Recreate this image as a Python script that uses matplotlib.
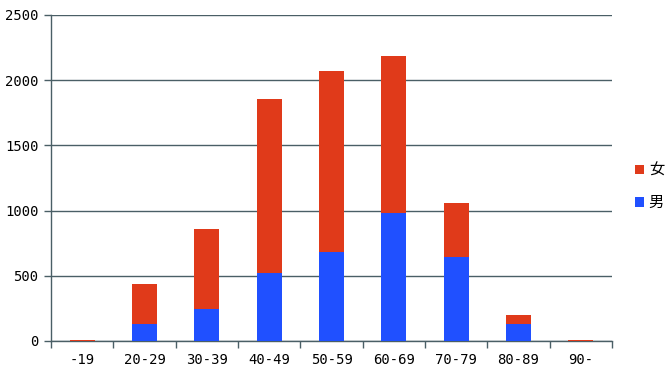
import matplotlib
matplotlib.use('Agg')
import matplotlib.pyplot as plt
import numpy as np

plt.rcParams['font.family'] = ['DejaVu Sans Mono', 'Noto Sans CJK JP']

categories = ['-19', '20-29', '30-39', '40-49', '50-59', '60-69', '70-79', '80-89', '90-']
male = [2, 130, 245, 522, 685, 982, 644, 130, 1]
female = [8, 307, 614, 1334, 1386, 1204, 414, 69, 5]

red = '#E03A1A'
blue = '#2050FF'
slate = '#4A5F66'

fig = plt.figure(figsize=(6.72, 3.73), dpi=100)
ax = fig.add_axes([51 / 672, 1 - 341 / 373, 561 / 672, 326 / 373])

x = np.arange(len(categories))
ax.bar(x, male, width=0.4, color=blue, label='男', zorder=3)
ax.bar(x, female, width=0.4, bottom=male, color=red, label='女', zorder=3)

ax.set_xlim(-0.5, len(categories) - 0.5)
ax.set_ylim(0, 2500)
ax.set_yticks(range(0, 2501, 500))
ax.yaxis.grid(True, color=slate, linewidth=1.0, zorder=1)

ax.set_xticks(x)
ax.set_xticklabels(categories, fontsize=10)
ax.tick_params(axis='x', which='major', length=0, pad=9)
ax.set_xticks(np.arange(-0.5, len(categories), 1), minor=True)
ax.tick_params(axis='x', which='minor', length=5, color=slate, width=1.0)
ax.tick_params(axis='y', length=5, color=slate, width=1.0, labelsize=10, pad=4)

for s in ['top', 'right']:
    ax.spines[s].set_visible(False)
for s in ['left', 'bottom']:
    ax.spines[s].set_color(slate)
    ax.spines[s].set_linewidth(1.0)

handles, labels = ax.get_legend_handles_labels()
fig.legend(handles[::-1], labels[::-1], loc='center left', bbox_to_anchor=(635 / 672, 0.5),
           frameon=False, handlelength=0.6, handleheight=0.6, handletextpad=0.3,
           labelspacing=1.0, prop={'family': ['Noto Sans CJK JP'], 'size': 11},
           borderaxespad=0, borderpad=0)

fig.savefig('out.png', dpi=100)
